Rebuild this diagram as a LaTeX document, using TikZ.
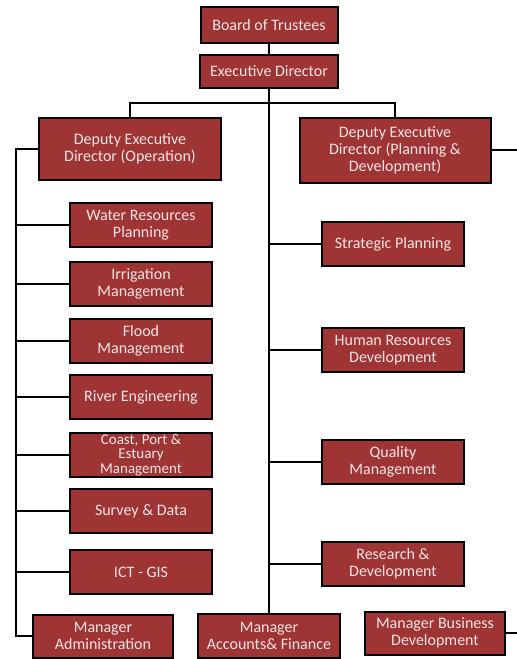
\documentclass[tikz,border=0pt]{standalone}
\usepackage{fontspec}
\setmainfont{Carlito}
\usetikzlibrary{shadows}
\definecolor{boxred}{RGB}{158,52,52}
\definecolor{boxtext}{RGB}{246,228,228}
\tikzset{
 unit/.style={draw=black,line width=2pt,fill=boxred,text=boxtext,align=center,
   font=\fontsize{16}{17}\selectfont,inner sep=1pt,
   drop shadow={shadow xshift=1.2pt,shadow yshift=-1.2pt,fill=black,opacity=0.5}},
 unitsmall/.style={unit,minimum width=142,minimum height=44},
 link/.style={draw=black,line width=2pt}
}
\begin{document}
\begin{tikzpicture}[x=1pt,y=-1pt]
\useasboundingbox (0,0) rectangle (517,659);
% top of the chart
\node[unit,minimum width=137,minimum height=36] (board) at (269,25) {Board of Trustees};
\node[unit,minimum width=138,minimum height=33] (exec) at (269,71) {Executive Director};
\node[unit,minimum width=182,minimum height=62] (dedop) at (130,149) {Deputy Executive\\Director (Operation)};
\node[unit,minimum width=191,minimum height=65] (dedpd) at (395,150) {Deputy Executive\\Director (Planning \&\\Development)};
% operation units
\foreach \nm/\yy/\txt in {wrp/225/{Water Resources\\Planning},irr/284/{Irrigation\\Management},
  flood/341/{Flood\\Management},river/397/{River Engineering},survey/511/{Survey \& Data},ict/572/{ICT - GIS}}{
 \node[unitsmall] (\nm) at (141,\yy) {\txt};
}
\node[unitsmall,font=\fontsize{15}{14.5}\selectfont,inner sep=0pt] (coast) at (141,455) {Coast, Port \&\\Estuary\\Management};
% planning units
\foreach \nm/\yy/\txt in {strat/244/{Strategic Planning},hrd/350/{Human Resources\\Development},
  qual/462/{Quality\\Management},rnd/564/{Research \&\\Development}}{
 \node[unitsmall] (\nm) at (393,\yy) {\txt};
}
% managers
\node[unit,minimum width=140,minimum height=43] (madmin) at (103,636) {Manager\\Administration};
\node[unit,minimum width=142,minimum height=44] (macc) at (269,636) {Manager\\Accounts\& Finance};
\node[unit,minimum width=140,minimum height=43] (mbd) at (435,633) {Manager Business\\Development};

% connectors
\coordinate (split) at (269,103);
\coordinate (lspine) at (16,0);
\coordinate (rspine) at (521,0);
\draw[link] (board) -- (exec);
\draw[link] (exec.south) -- (macc.north);
\draw[link] (dedop.north) |- (split) -| (dedpd.north);
\draw[link] (dedop.west) -| (lspine |- madmin.west) -- (madmin.west);
\foreach \nm in {wrp,irr,flood,river,coast,survey,ict}{
 \draw[link] (\nm.west) -- (lspine |- \nm.west);
}
\foreach \nm in {strat,hrd,qual,rnd}{
 \draw[link] (\nm.west) -- (exec.south |- \nm.west);
}
\draw[link] (dedpd.east) -| (rspine |- mbd.east) -- (mbd.east);
\end{tikzpicture}
\end{document}
